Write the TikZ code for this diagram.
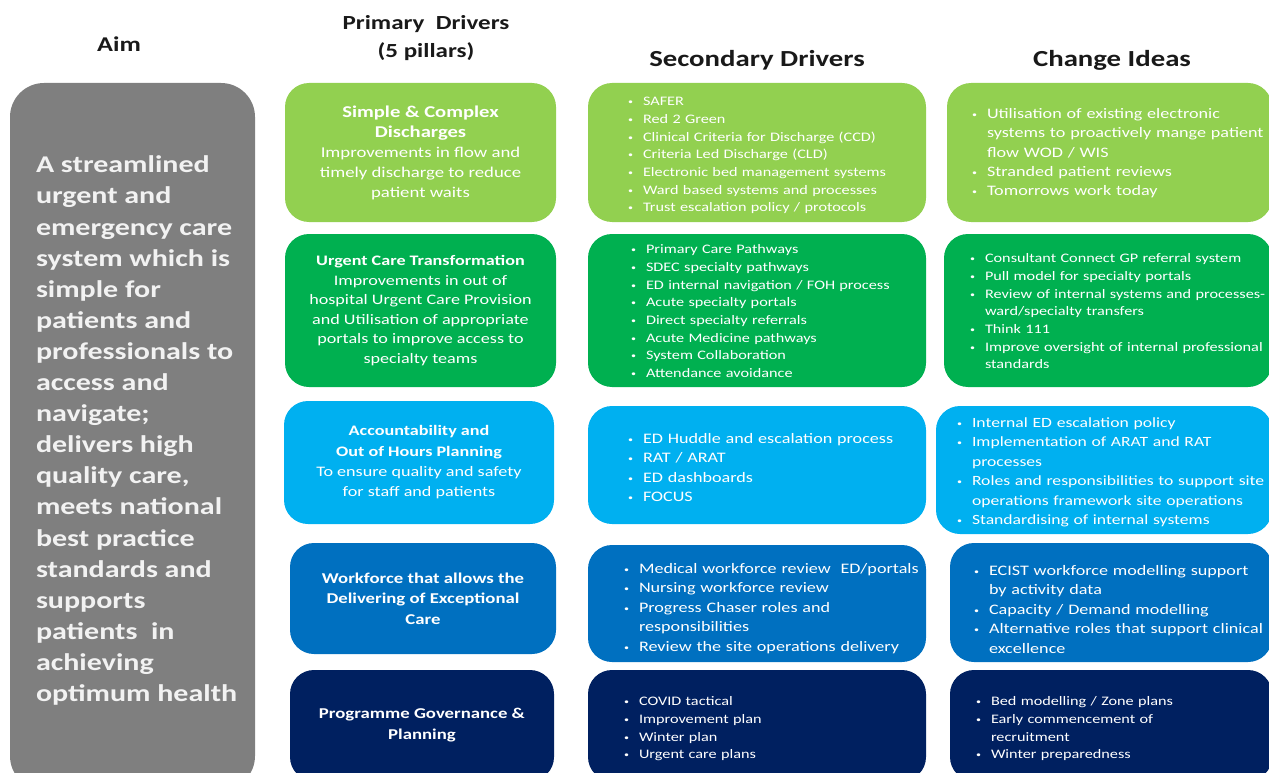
\documentclass[tikz,border=0pt]{standalone}
\usepackage{fontspec}
\setmainfont{Carlito}[FakeStretch=1.25]
\usetikzlibrary{positioning}
\definecolor{aimgrey}{HTML}{7F7F7F}
\definecolor{aimtext}{HTML}{F2F2F2}
\definecolor{lgreen}{HTML}{92D050}
\definecolor{dgreen}{HTML}{00B050}
\definecolor{lblue}{HTML}{00B0F0}
\definecolor{dblue}{HTML}{0070C0}
\definecolor{navy}{HTML}{002060}
\newlength{\bhang}
\setlength{\bhang}{15pt}
\newcommand{\bitem}{\par\hangindent=\bhang\hangafter=1\noindent\makebox[\bhang][l]{\raisebox{1pt}{\fontsize{8}{8}\selectfont\textbullet}}}
\begin{document}
\begin{tikzpicture}
[
    x=1pt, y=-1pt,
    pill/.style={rectangle, rounded corners=24pt, inner sep=0pt, text=white, align=center},
    bullets/.style={anchor=north west, inner sep=0pt, text=white, text width=340pt, align=left},
    small/.style={font=\fontsize{13}{17.7}\selectfont},
    large/.style={font=\fontsize{14.5}{19.4}\selectfont},
    head/.style={font=\bfseries, text=black!90},
]
\useasboundingbox (0,0) rectangle (1269,773);

% column headings
\node[head, font=\fontsize{21}{25}\selectfont\bfseries] (aimhead) at (119,44) {Aim};
\node[head, font=\fontsize{20}{28}\selectfont\bfseries, align=center] (primhead) at (426,38) {Primary\ \ Drivers\\(5 pillars)};
\node[head, font=\fontsize{23}{28}\selectfont\bfseries] (sechead) at (757,60) {Secondary Drivers};
\node[head, font=\fontsize{23}{28}\selectfont\bfseries] (chghead) at (1112,60) {Change Ideas};

% aim
\node[pill, fill=aimgrey, rounded corners=34pt, minimum width=245, minimum height=707] (aim) at (132.5,436.5) {};
\node[anchor=north west, inner sep=0pt, align=left, text=aimtext, font=\fontsize{24}{31.1}\selectfont\bfseries] (aimtxt) at ([shift={(26,73)}]aim.north west)
{A streamlined\\urgent and\\emergency care\\system which is\\simple for\\patients and\\professionals to\\access and\\navigate;\\delivers high\\quality care,\\meets national\\best practice\\standards and\\supports\\patients\ \ in\\achieving\\optimum health};

% primary drivers
\node[pill, fill=lgreen, minimum width=271, minimum height=139, font=\fontsize{15}{20}\selectfont] (prim1) at (420.5,152.5)
{{\fontsize{16.5}{20}\selectfont\bfseries Simple \& Complex}\\{\fontsize{16.5}{20}\selectfont\bfseries Discharges}\\Improvements in flow and\\timely discharge to reduce\\patient waits};
\node[pill, fill=dgreen, minimum width=271, minimum height=153, font=\fontsize{14.5}{19.5}\selectfont] (prim2) at (420.5,310.5)
{\textbf{Urgent Care Transformation}\\Improvements in out of\\hospital Urgent Care Provision\\and Utilisation of appropriate\\portals to improve access to\\specialty teams};
\node[pill, fill=lblue, minimum width=270, minimum height=123, font=\fontsize{14.5}{20.3}\selectfont] (prim3) at (419,462.5)
{\textbf{Accountability and}\\\textbf{Out of Hours Planning}\\To ensure quality and safety\\for staff and patients};
\node[pill, fill=dblue, minimum width=266, minimum height=111, font=\fontsize{15}{20.5}\selectfont] (prim4) at (423,598.5)
{\textbf{Workforce that allows the}\\\textbf{Delivering of Exceptional}\\\textbf{Care}};
\node[pill, fill=navy, minimum width=264, minimum height=111, font=\fontsize{15}{21}\selectfont] (prim5) at (422,725.5)
{\textbf{Programme Governance \&}\\\textbf{Planning}};

% secondary drivers
\node[pill, fill=lgreen, minimum width=338, minimum height=139] (sec1) at (757,152.5) {};
\node[pill, fill=dgreen, minimum width=338, minimum height=153] (sec2) at (757,310.5) {};
\node[pill, fill=lblue, minimum width=338, minimum height=118] (sec3) at (757,465) {};
\node[pill, fill=dblue, minimum width=338, minimum height=117] (sec4) at (757,603.5) {};
\node[pill, fill=navy, minimum width=338, minimum height=111] (sec5) at (757,725.5) {};

\node[bullets, small] (sec1txt) at ([shift={(40,5)}]sec1.north west)
{\bitem SAFER\bitem Red 2 Green\bitem Clinical Criteria for Discharge (CCD)\bitem Criteria Led Discharge (CLD)\bitem Electronic bed management systems\bitem Ward based systems and processes\bitem Trust escalation policy / protocols\par};
\node[bullets, small] (sec2txt) at ([shift={(43,2)}]sec2.north west)
{\bitem Primary Care Pathways\bitem SDEC specialty pathways\bitem ED internal navigation / FOH process\bitem Acute specialty portals\bitem Direct specialty referrals\bitem Acute Medicine pathways\bitem System Collaboration\bitem Attendance avoidance\par};
\node[bullets, large] (sec3txt) at ([shift={(40,18)}]sec3.north west)
{\bitem ED Huddle and escalation process\bitem RAT / ARAT\bitem ED dashboards\bitem FOCUS\par};
\node[bullets, large] (sec4txt) at ([shift={(36,9)}]sec4.north west)
{\bitem Medical workforce review\ \ ED/portals\bitem Nursing workforce review\bitem Progress Chaser roles and\newline responsibilities\bitem Review the site operations delivery\par};
\node[bullets, small] (sec5txt) at ([shift={(36,18)}]sec5.north west)
{\bitem COVID tactical\bitem Improvement plan\bitem Winter plan\bitem Urgent care plans\par};

% change ideas
\node[pill, fill=lgreen, minimum width=325, minimum height=139] (chg1) at (1109.5,152.5) {};
\node[pill, fill=dgreen, minimum width=328, minimum height=153] (chg2) at (1108,310.5) {};
\node[pill, fill=lblue, minimum width=336, minimum height=128] (chg3) at (1104,470) {};
\node[pill, fill=dblue, minimum width=322, minimum height=119] (chg4) at (1111,602.5) {};
\node[pill, fill=navy, minimum width=322, minimum height=111] (chg5) at (1111,725.5) {};

\node[bullets, large] (chg1txt) at ([shift={(25,16)}]chg1.north west)
{\bitem Utilisation of existing electronic\newline systems to proactively mange patient\newline flow WOD / WIS\bitem Stranded patient reviews\bitem Tomorrows work today\par};
\node[bullets, small] (chg2txt) at ([shift={(26,11)}]chg2.north west)
{\bitem Consultant Connect GP referral system\bitem Pull model for specialty portals\bitem Review of internal systems and processes-\newline ward/specialty transfers\bitem Think 111\bitem Improve oversight of internal professional\newline standards\par};
\node[bullets, font=\fontsize{14.1}{19.4}\selectfont] (chg3txt) at ([shift={(21,2)}]chg3.north west)
{\bitem Internal ED escalation policy\bitem Implementation of ARAT and RAT\newline processes\bitem Roles and responsibilities to support site\newline operations framework site operations\bitem Standardising of internal systems\par};
\node[bullets, large] (chg4txt) at ([shift={(24,13)}]chg4.north west)
{\bitem ECIST workforce modelling support\newline by activity data\bitem Capacity / Demand modelling\bitem Alternative roles that support clinical\newline excellence\par};
\node[bullets, small] (chg5txt) at ([shift={(26,18)}]chg5.north west)
{\bitem Bed modelling / Zone plans\bitem Early commencement of\newline recruitment\bitem Winter preparedness\par};
\end{tikzpicture}
\end{document}
